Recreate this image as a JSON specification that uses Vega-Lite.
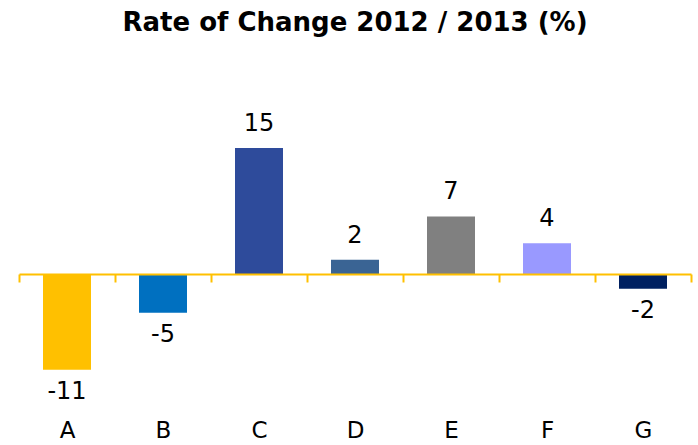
{
  "$schema": "https://vega.github.io/schema/vega-lite/v6.json",
  "width": 672,
  "height": 294,
  "autosize": {"type": "none"},
  "padding": {"left": 19, "top": 106, "right": 7, "bottom": 45},
  "background": "white",
  "title": {
    "text": "Rate of Change 2012 / 2013 (%)",
    "font": "DejaVu Sans",
    "fontSize": 26,
    "fontWeight": "bold",
    "color": "#000000",
    "anchor": "middle",
    "baseline": "alphabetic",
    "offset": 49
  },
  "config": {
    "view": {"stroke": null},
    "text": {"font": "DejaVu Sans"},
    "locale": {
      "number": {"decimal": ".", "thousands": ",", "grouping": [3], "currency": ["$", ""], "minus": "-"}
    }
  },
  "data": {
    "values": [
      {"category": "A", "value": -11.4, "color": "#FFC000"},
      {"category": "B", "value": -4.6, "color": "#0070C0"},
      {"category": "C", "value": 15.0, "color": "#2E4B9B"},
      {"category": "D", "value": 1.7, "color": "#3A6494"},
      {"category": "E", "value": 6.85, "color": "#808080"},
      {"category": "F", "value": 3.65, "color": "#9999FF"},
      {"category": "G", "value": -1.75, "color": "#002060"}
    ]
  },
  "encoding": {
    "x": {
      "field": "category",
      "type": "nominal",
      "sort": null,
      "scale": {"paddingInner": 0, "paddingOuter": 0},
      "axis": {
        "title": null,
        "orient": "bottom",
        "offset": -126,
        "zindex": 1,
        "domainColor": "#FFC000",
        "domainWidth": 2,
        "tickColor": "#FFC000",
        "tickWidth": 2,
        "tickSize": 8,
        "tickBand": "extent",
        "labelAngle": 0,
        "labelFont": "DejaVu Sans",
        "labelFontSize": 23,
        "labelColor": "#000000",
        "labelPadding": 137,
        "labelBaseline": "top"
      }
    },
    "y": {
      "field": "value",
      "type": "quantitative",
      "scale": {"domain": [-15, 20], "nice": false, "zero": false},
      "axis": null
    }
  },
  "layer": [
    {
      "mark": {"type": "bar", "width": {"band": 0.5}},
      "encoding": {
        "color": {"field": "color", "type": "nominal", "scale": null, "legend": null}
      }
    },
    {
      "transform": [{"filter": "datum.value >= 0"}],
      "mark": {"type": "text", "baseline": "alphabetic", "dy": -17, "fontSize": 24, "color": "#000000"},
      "encoding": {
        "text": {"field": "value", "type": "quantitative", "format": ".0f"}
      }
    },
    {
      "transform": [{"filter": "datum.value < 0"}],
      "mark": {"type": "text", "baseline": "top", "dy": 10, "fontSize": 24, "color": "#000000"},
      "encoding": {
        "text": {"field": "value", "type": "quantitative", "format": ".0f"}
      }
    }
  ]
}
